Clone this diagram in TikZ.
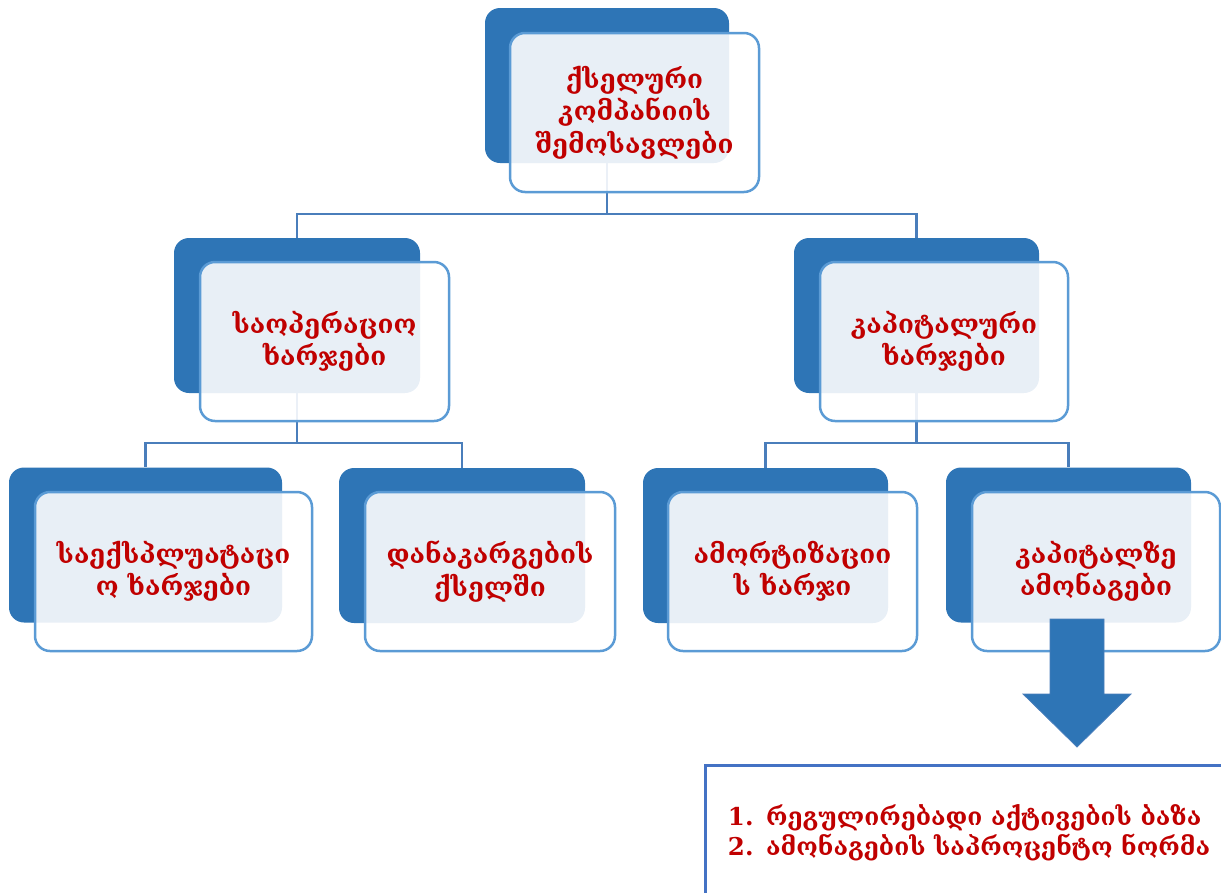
\documentclass[tikz,border=0pt]{standalone}
\usepackage{fontspec}
\setmainfont{DejaVu Serif}
\definecolor{dkblue}{HTML}{2E75B6}
\definecolor{edgeblue}{HTML}{5B9BD5}
\definecolor{connblue}{HTML}{4A7EBB}
\definecolor{boxblue}{HTML}{4472C4}
\definecolor{txtred}{HTML}{C00000}
\tikzset{
  backbox/.style={rectangle, rounded corners=15pt, fill=dkblue, inner sep=0pt, minimum height=155pt},
  frontbox/.style={rectangle, rounded corners=15pt, draw=edgeblue, line width=2.5pt, fill=white, fill opacity=0.89, text opacity=1, text=txtred, font=\bfseries\fontsize{26}{32.5}\selectfont, align=center, inner sep=0pt, minimum height=159pt},
  connector/.style={draw=connblue, line width=2.2pt},
}
\begin{document}
\begin{tikzpicture}[x=1pt,y=-1pt]
\useasboundingbox (0,0) rectangle (1221,892);
% back boxes
\node[backbox, minimum width=244pt] (b1) at (607,85.5) {};
\node[backbox, minimum width=246pt] (b2) at (297,315.5) {};
\node[backbox, minimum width=245pt] (b3) at (916.5,315.5) {};
\node[backbox, minimum width=273pt] (b4) at (145.5,545) {};
\node[backbox, minimum width=246pt] (b5) at (462,545.5) {};
\node[backbox, minimum width=245pt] (b6) at (765.5,545.5) {};
\node[backbox, minimum width=245pt] (b7) at (1068.5,545) {};
% connectors
\coordinate (j1) at (607,214);
\draw[connector] (b1.south) -- (j1) -| (b2.north);
\draw[connector] (j1) -| (b3.north);
\coordinate (j2) at (297,443);
\draw[connector] (b2.south) -- (j2) -| (b4.north);
\draw[connector] (j2) -| (b5.north);
\coordinate (j3) at (916.5,443);
\draw[connector] (b3.south) -- (j3) -| (b6.north);
\draw[connector] (j3) -| (b7.north);
% front boxes
\node[frontbox, minimum width=249pt] (f1) at (634.5,112.5) {ქსელური\\კომპანიის\\შემოსავლები};
\node[frontbox, minimum width=249pt] (f2) at (324.5,341.5) {საოპერაციო\\ხარჯები};
\node[frontbox, minimum width=248pt] (f3) at (944,341.5) {კაპიტალური\\ხარჯები};
\node[frontbox, minimum width=277pt] (f4) at (173.5,571.5) {საექსპლუატაცი\\ო ხარჯები};
\node[frontbox, minimum width=250pt] (f5) at (490,571.5) {დანაკარგების\\ქსელში};
\node[frontbox, minimum width=249pt] (f6) at (792.5,571.5) {ამორტიზაციი\\ს ხარჯი};
\node[frontbox, minimum width=248pt] (f7) at (1096,571.5) {კაპიტალზე\\ამონაგები};
% down arrow
\filldraw[fill=dkblue, draw=connblue, line width=0.8pt] (1050,619) -- (1104,619) -- (1104,694) -- (1131,694) -- (1077,747) -- (1023,694) -- (1050,694) -- cycle;
% bottom box
\node[draw=boxblue, line width=2.5pt, minimum width=540pt, minimum height=150pt, anchor=north west, inner sep=0pt] (bx) at (704,764) {};
\node[text=txtred, font=\bfseries\fontsize{24.5}{30}\selectfont, align=left] (bt) at (969,833) {1.\ \,რეგულირებადი აქტივების ბაზა\\2.\ \,ამონაგების საპროცენტო ნორმა};
\end{tikzpicture}
\end{document}
